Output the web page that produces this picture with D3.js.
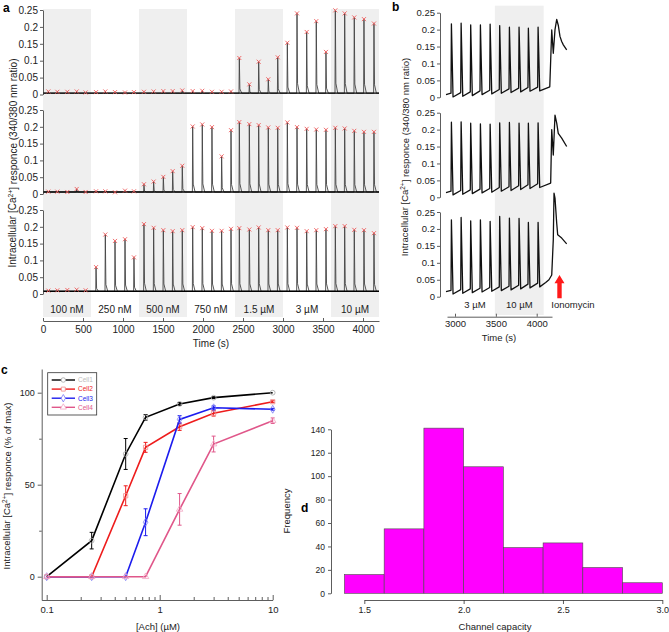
<!DOCTYPE html>
<html><head><meta charset="utf-8">
<script src="https://cdn.jsdelivr.net/npm/d3@7"></script>
<style>
body{margin:0;background:#fff}
svg{display:block}
text{font-family:"Liberation Sans",Arial,Helvetica,sans-serif;fill:#222}
</style>
</head><body>
<svg id="fig" width="669" height="632"></svg>
<script>
// ================= DATA =================
// Panel a
const concLabelsA = ["100 nM","250 nM","500 nM","750 nM","1.5 \u00b5M","3 \u00b5M","10 \u00b5M"];
const periodStartsA = [0,600,1200,1800,2400,3000,3600];
const periodLen = 600;
const stimTimesA = [67,179,304,421,533, 663,779,900,1025,1137, 1262,1383,1504,1621,1741,
  1871,1991,2112,2233,2350, 2454,2579,2696,2816,2934, 3054,3175,3296,3416,3537,
  3654,3771,3891,4012,4137];
const peaksTop = [0.009,0.008,0.008,0.009,0.006, 0.007,0.009,0.007,0.006,0.007, 0.008,0.009,0.010,0.010,0.012,
  0.010,0.011,0.008,0.008,0.009, 0.108,0.030,0.097,0.045,0.110, 0.153,0.240,0.185,0.217,0.126,
  0.249,0.240,0.228,0.223,0.210];
const peaksMid = [0.007,0.007,0.006,0.015,0.006, 0.008,0.008,0.005,0.010,0.008, 0.029,0.037,0.051,0.068,0.084,
  0.201,0.207,0.199,0.112,0.190, 0.214,0.208,0.205,0.198,0.197, 0.213,0.199,0.194,0.192,0.191,
  0.197,0.195,0.188,0.185,0.185];
const peaksBot = [0.010,0.011,0.012,0.013,0.011, 0.080,0.177,0.158,0.163,0.109, 0.208,0.197,0.190,0.187,0.190,
  0.199,0.196,0.188,0.188,0.194, 0.196,0.192,0.198,0.190,0.190, 0.198,0.197,0.187,0.190,0.193,
  0.202,0.202,0.191,0.190,0.181];
const baselinesA = [0.004,0.006,0.008];
const timeTicksA = [0,500,1000,1500,2000,2500,3000,3500,4000];
const ratioTicks = [0,0.05,0.1,0.15,0.2,0.25];

// Panel b
const concLabelsB = ["3 \u00b5M","10 \u00b5M"];
const shadeB = [3488,4085];
const timeTicksB = [3000,3500,4000];
const stimTimesB = [2951,3070,3187,3306,3425,3542,3661,3779,3893,4012];
const peaksB = [
  [0.217,0.219,0.214,0.214,0.216,0.212,0.207,0.207,0.204,0.207],
  [0.222,0.223,0.219,0.217,0.216,0.220,0.221,0.219,0.219,0.220],
  [0.227,0.234,0.224,0.227,0.222,0.237,0.232,0.231,0.219,0.219]];
const basesB = [
  [0.012,0.014,0.016,0.019,0.021,0.023,0.025,0.027,0.029,0.030],
  [0.018,0.020,0.022,0.024,0.026,0.029,0.031,0.034,0.037,0.040],
  [0.019,0.021,0.023,0.025,0.027,0.029,0.031,0.034,0.037,0.040]];
const ionoB = [
  [[4160,0.031],[4184,0.199],[4203,0.130],[4224,0.200],[4245,0.230],[4264,0.213],[4285,0.180],[4306,0.165],[4326,0.155],[4367,0.140]],
  [[4171,0.042],[4184,0.200],[4203,0.125],[4224,0.243],[4245,0.219],[4264,0.189],[4306,0.175],[4367,0.150]],
  [[4110,0.042],[4150,0.050],[4184,0.064],[4203,0.168],[4212,0.306],[4224,0.291],[4245,0.217],[4257,0.183],[4306,0.173],[4367,0.156]]];
const ionoArrowTime = 4279;

// Panel c
const concC = [0.1,0.25,0.5,0.75,1.5,3,10];
const cellNames = ["Cell1","Cell2","Cell3","Cell4"];
const cell1 = [0,19.6,66.7,86.6,93.9,97.3,100];
const cell2 = [0,0,44,70.3,81.5,88.8,95.1];
const cell3 = [0,0,0,29.6,85.5,91.8,91];
const cell4 = [0,0,0,0,36.6,72.1,84.8];
const err1 = [0,4.5,8.4,1.5,0.8,0.5,0];
const err2 = [0,0,5.4,2.7,2.0,1.5,0.5];
const err3 = [0,0,0,7.3,2.0,1.0,0.5];
const err4 = [0,0,0,0,8.6,4.3,1.5];
const ticksC_y = [0,25,50,75,100];
const labelsC_y = [0,50,100];

// Panel d
const binEdgesD = [1.4,1.6,1.8,2.0,2.2,2.4,2.6,2.8,3.0];
const countsD = [16,55,141,108,39,43,22,9];
const ticksD_x = [1.5,2.0,2.5,3.0];
const ticksD_y = [0,20,40,60,80,100,120,140];

// ================= DRAW =================
const svg = d3.select("#fig");
const AX = "#333";

function styleAxis(g, fs){
  g.attr("font-family",null).attr("font-size",null);
  g.selectAll("path.domain").attr("stroke",AX).attr("stroke-width",0.8);
  g.selectAll(".tick line").attr("stroke",AX).attr("stroke-width",0.8);
  g.selectAll(".tick text").attr("font-size",fs).style("fill","#222");
}
function letter(t,x,y){
  svg.append("text").attr("x",x).attr("y",y).attr("font-size",12).attr("font-weight","bold").style("fill","#000").text(t);
}
function caLabel(x,y,tail,fs){
  const t = svg.append("text").attr("transform",`translate(${x},${y}) rotate(-90)`)
    .attr("text-anchor","middle").attr("font-size",fs);
  t.append("tspan").text("Intracellular [Ca");
  t.append("tspan").attr("dy","-0.4em").attr("font-size",fs*0.68).text("2+");
  t.append("tspan").attr("dy","0.4em").text("] responce " + tail);
}
const fmtR = d => d===0 ? "0" : d3.format("~g")(d);

// ---------- Panel a ----------
const xA = d3.scaleLinear().domain([0,4200]).range([43,379]);
const rowsA = [{top:10,zero:94.5},{top:110,zero:194},{top:210,zero:294}];
const gA = svg.append("g");
periodStartsA.forEach((s,i)=>{
  if(i%2===0) gA.append("rect").attr("x",xA(s)).attr("width",xA(s+periodLen)-xA(s))
    .attr("y",9).attr("height",308).attr("fill","#efefef");
});
const peaksAll = [peaksTop,peaksMid,peaksBot];
rowsA.forEach((r,ri)=>{
  const y = d3.scaleLinear().domain([0,0.25]).range([r.zero,r.top]);
  const base = baselinesA[ri];
  const pts = [[0,base]];
  stimTimesA.forEach((t,i)=>{
    const p = peaksAll[ri][i];
    pts.push([t-4,base],[t,p],[t+7,base+(p-base)*0.12],[t+30,base]);
  });
  pts.push([4200,base]);
  gA.append("path").attr("d",d3.line().x(d=>xA(d[0])).y(d=>y(d[1]))(pts))
    .attr("fill","none").attr("stroke","#444").attr("stroke-width",0.9);
  gA.append("line").attr("x1",xA(0)).attr("x2",xA(4200)).attr("y1",y(base)).attr("y2",y(base))
    .attr("stroke","#000").attr("stroke-width",1.4);
  stimTimesA.forEach((t,i)=>{
    gA.append("path").attr("transform",`translate(${xA(t)},${y(peaksAll[ri][i])})`)
      .attr("d","M-2,-2L2,2M-2,2L2,-2").attr("stroke","#ee5a5a").attr("stroke-width",0.9).attr("fill","none");
  });
  const ax = gA.append("g").attr("transform",`translate(${xA(0)},0)`)
    .call(d3.axisLeft(y).tickValues(ratioTicks).tickSize(3).tickSizeOuter(0).tickPadding(2).tickFormat(fmtR));
  styleAxis(ax,10);
});
concLabelsA.forEach((l,i)=>{
  gA.append("text").attr("x",xA(periodStartsA[i]+periodLen/2)).attr("y",312.5)
    .attr("text-anchor","middle").attr("font-size",10).text(l);
});
const axA = gA.append("g").attr("transform","translate(0,321)")
  .call(d3.axisBottom(xA).tickValues(timeTicksA).tickSize(-3).tickSizeOuter(0).tickPadding(5).tickFormat(d3.format("d")));
styleAxis(axA,10);
gA.append("text").attr("x",211).attr("y",347).attr("text-anchor","middle").attr("font-size",10).text("Time (s)");
caLabel(15.5,163,"(340/380 nm ratio)",10);
letter("a",3,12);

// ---------- Panel b ----------
const xB = d3.scaleLinear().domain([3000,4000]).range([455,536.7]);
const rowsB = [{top:12.7,zero:97.3},{top:112.7,zero:197.3},{top:212,zero:296.7}];
const gB = svg.append("g");
gB.append("rect").attr("x",xB(shadeB[0])).attr("width",xB(shadeB[1])-xB(shadeB[0]))
  .attr("y",5.7).attr("height",309.3).attr("fill","#efefef");
rowsB.forEach((r,ri)=>{
  const y = d3.scaleLinear().domain([0,0.25]).range([r.zero,r.top]);
  const b = basesB[ri];
  const pts = [[2890,b[0]-0.004]];
  stimTimesB.forEach((t,i)=>{
    pts.push([t,b[i]],[t+5,peaksB[ri][i]],[t+25,b[i]-0.011]);
  });
  ionoB[ri].forEach(p=>pts.push(p));
  gB.append("path").attr("d",d3.line().x(d=>xB(d[0])).y(d=>y(d[1]))(pts))
    .attr("fill","none").attr("stroke","#111").attr("stroke-width",1.3).attr("stroke-linejoin","round");
  const ax = gB.append("g").attr("transform","translate(440,0)")
    .call(d3.axisLeft(y).tickValues(ratioTicks).tickSize(3).tickSizeOuter(0).tickPadding(2).tickFormat(fmtR));
  styleAxis(ax,9.5);
});
const xBax = d3.scaleLinear().domain([xB.invert(447),xB.invert(552)]).range([447,552]);
const axB = gB.append("g").attr("transform","translate(0,316.7)")
  .call(d3.axisBottom(xBax).tickValues(timeTicksB).tickSize(-3).tickSizeOuter(0).tickPadding(4).tickFormat(d3.format("d")));
styleAxis(axB,9.5);
gB.append("text").attr("x",xB(3000+(shadeB[0]-3000)/2)).attr("y",307.5).attr("text-anchor","middle").attr("font-size",9.5).text(concLabelsB[0]);
gB.append("text").attr("x",xB((shadeB[0]+shadeB[1])/2)).attr("y",307.5).attr("text-anchor","middle").attr("font-size",9.5).text(concLabelsB[1]);
gB.append("text").attr("x",573).attr("y",307.5).attr("text-anchor","middle").attr("font-size",9.5).text("Ionomycin");
gB.append("text").attr("x",499).attr("y",341).attr("text-anchor","middle").attr("font-size",9.5).text("Time (s)");
const ax0 = xB(ionoArrowTime);
gB.append("path").attr("d",`M${ax0},275L${ax0+5},283.3L${ax0+2.2},283.3L${ax0+2.2},298.3L${ax0-2.2},298.3L${ax0-2.2},283.3L${ax0-5},283.3Z`)
  .attr("fill","#ff1a1a");
caLabel(408,157,"(340/380 nm ratio)",9.5);
letter("b",392,11);

// ---------- Panel c ----------
const xC = d3.scaleLog().domain([0.1,10]).range([46.7,272.7]);
const yC = d3.scaleLinear().domain([0,100]).range([576.7,392.7]);
const gC = svg.append("g");
const xCax = d3.scaleLog().domain([xC.invert(41.7),10]).range([41.7,272.7]);
const yCax = d3.scaleLinear().domain([yC.invert(600),yC.invert(369)]).range([600,369]);
const minorC = [];
[0.1,1].forEach(dec=>{for(let k=1;k<10;k++) minorC.push(+(dec*k).toPrecision(3));});
minorC.push(10);
const axCx = gC.append("g").attr("transform","translate(0,600)")
  .call(d3.axisBottom(xCax).tickValues(minorC).tickSize(-3).tickSizeOuter(0).tickPadding(6)
    .tickFormat(d => (d===0.1||d===1||d===10) ? String(d) : ""));
styleAxis(axCx,9.5);
axCx.selectAll(".tick").filter(d=>d===0.1||d===1||d===10).select("line").attr("y2",-5);
const axCy = gC.append("g").attr("transform","translate(41.7,0)")
  .call(d3.axisLeft(yCax).tickValues(ticksC_y).tickSize(4).tickSizeOuter(0).tickPadding(3)
    .tickFormat(d => labelsC_y.includes(d) ? String(d) : ""));
styleAxis(axCy,9);
axCy.selectAll(".tick").filter(d=>!labelsC_y.includes(d)).select("line").attr("x2",-2.5);

const cellData = [cell1,cell2,cell3,cell4];
const errData = [err1,err2,err3,err4];
const lineCols = ["#000000","#ee1c1c","#1c1cee","#e0578a"];
const markCols = ["#a8a8a8","#f08a8a","#7a7af5","#f2a6c3"];
const textCols = ["#bdbdbd","#ee1c1c","#1c1cee","#e0578a"];
const symbols = [d3.symbolCircle,d3.symbolSquare,d3.symbolDiamond,d3.symbolTriangle];
const lineC = d3.line().x(d=>xC(d[0])).y(d=>yC(d[1]));
cellData.forEach((vals,ci)=>{
  gC.append("path").attr("d",lineC(concC.map((c,i)=>[c,vals[i]])))
    .attr("fill","none").attr("stroke",lineCols[ci]).attr("stroke-width",1.6);
  concC.forEach((c,i)=>{
    const e = errData[ci][i];
    if(e>0){
      const x = xC(c), y1 = yC(vals[i]-e), y2 = yC(vals[i]+e);
      gC.append("path").attr("d",`M${x},${y1}V${y2}M${x-2},${y1}H${x+2}M${x-2},${y2}H${x+2}`)
        .attr("stroke",lineCols[ci]).attr("stroke-width",1).attr("fill","none");
    }
    gC.append("path").attr("d",d3.symbol(symbols[ci],18)()).attr("transform",`translate(${xC(c)},${yC(vals[i])})`)
      .attr("fill","none").attr("stroke",markCols[ci]).attr("stroke-width",0.8);
  });
});
// legend
gC.append("rect").attr("x",47.7).attr("y",372.7).attr("width",49).attr("height",42.3)
  .attr("fill","#fff").attr("stroke","#333").attr("stroke-width",0.8);
cellNames.forEach((n,ci)=>{
  const y = 380 + ci*9.1;
  gC.append("line").attr("x1",51.7).attr("x2",75).attr("y1",y).attr("y2",y).attr("stroke",lineCols[ci]).attr("stroke-width",1.4);
  gC.append("path").attr("d",d3.symbol(symbols[ci],16)()).attr("transform",`translate(63.3,${y})`)
    .attr("fill","#fff").attr("stroke",markCols[ci]).attr("stroke-width",0.8);
  gC.append("text").attr("x",78).attr("y",y+2.3).attr("font-size",6.5).style("fill",textCols[ci]).text(n);
});
gC.append("text").attr("x",158).attr("y",630).attr("text-anchor","middle").attr("font-size",9.5).text("[Ach] (\u00b5M)");
caLabel(10,486,"(% of max)",9.5);
letter("c",1,374);

// ---------- Panel d ----------
const xD = d3.scaleLinear().domain([1.5,3.0]).range([364.3,662.3]);
const yD = d3.scaleLinear().domain([0,140]).range([593.3,429.3]);
const gD = svg.append("g");
countsD.forEach((c,i)=>{
  const x0 = xD(binEdgesD[i]), x1 = xD(binEdgesD[i+1]);
  gD.append("rect").attr("x",x0).attr("width",x1-x0).attr("y",yD(c)).attr("height",yD(0)-yD(c))
    .attr("fill","#ff00ff").attr("stroke","#4a4a4a").attr("stroke-width",0.6);
});
const axDx = gD.append("g").attr("transform","translate(0,600)")
  .call(d3.axisBottom(xD).tickValues(ticksD_x).tickSize(4).tickSizeOuter(0).tickPadding(3).tickFormat(d3.format(".1f")));
styleAxis(axDx,9);
const axDy = gD.append("g").attr("transform","translate(331,0)")
  .call(d3.axisLeft(yD).tickValues(ticksD_y).tickSize(3).tickSizeOuter(0).tickPadding(3));
styleAxis(axDy,8.5);
gD.append("text").attr("x",495).attr("y",630).attr("text-anchor","middle").attr("font-size",9.5).text("Channel capacity");
gD.append("text").attr("transform","translate(290,511) rotate(-90)").attr("text-anchor","middle").attr("font-size",9.5).text("Frequency");
letter("d",301,512);
</script>
</body></html>
